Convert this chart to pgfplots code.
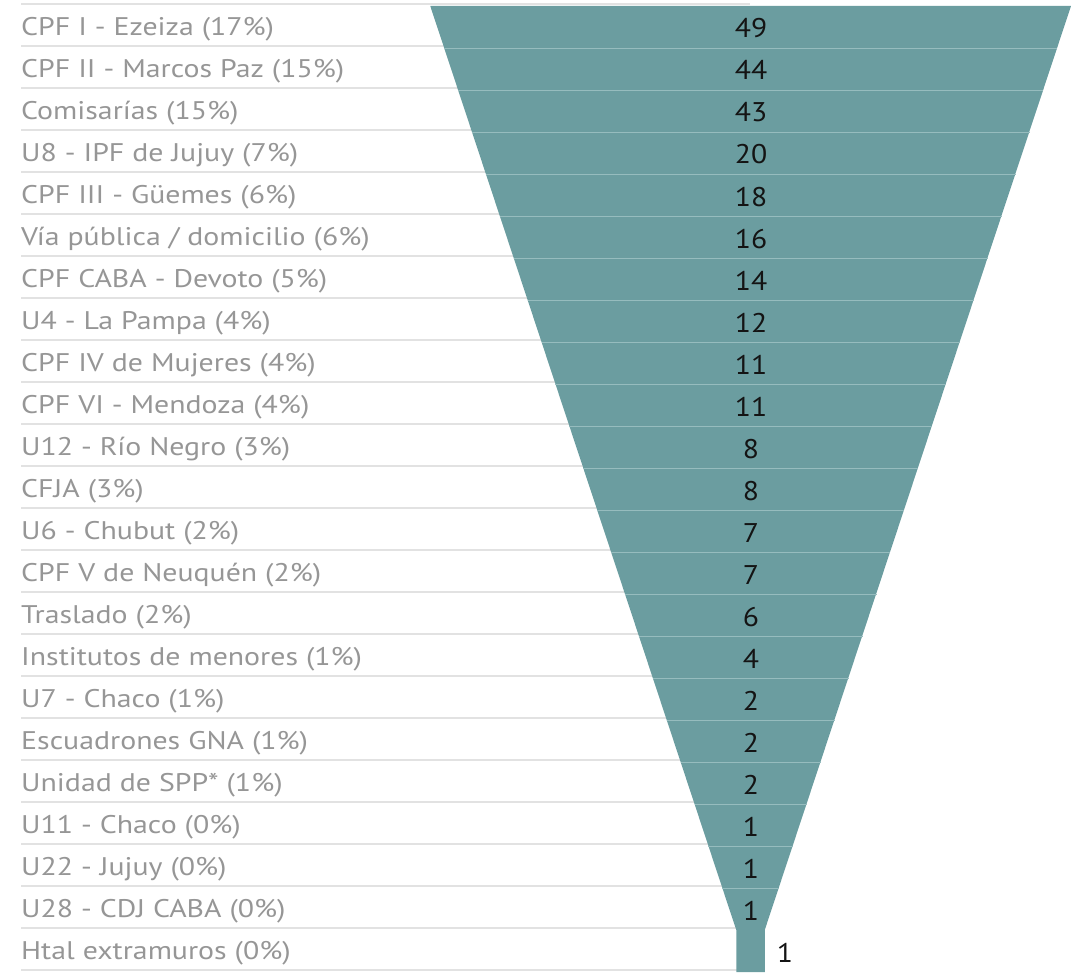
\documentclass[border=0pt]{standalone}
\usepackage{pgfplots}
\usepackage{pgfplotstable}
\pgfplotsset{compat=1.18}
\usepackage{fontspec}
\setmainfont{PT Sans}
\newfontfamily\labfont{PT Sans}[FakeStretch=1.17]
\newfontfamily\valfont{PT Sans}[FakeStretch=1.1]
\definecolor{funnel}{RGB}{107,157,160}
\definecolor{sepc}{RGB}{150,188,190}
\definecolor{lab}{RGB}{150,150,150}
\definecolor{gridc}{RGB}{226,226,226}
\definecolor{val}{RGB}{20,20,20}

\pgfplotstableread[col sep=semicolon]{
yl;yv;xv;value;name
35.5;38;751;49;CPF I - Ezeiza (17\%)
77.5;80;751;44;CPF II - Marcos Paz (15\%)
119.5;122;751;43;Comisarías (15\%)
161.5;164;751;20;U8 - IPF de Jujuy (7\%)
203.5;206;751;18;CPF III - Güemes (6\%)
245.5;248;751;16;Vía pública / domicilio (6\%)
287.5;290;751;14;CPF CABA - Devoto (5\%)
329.5;332;751;12;U4 - La Pampa (4\%)
371.5;374;751;11;CPF IV de Mujeres (4\%)
413.5;416;751;11;CPF VI - Mendoza (4\%)
455.5;458;751;8;U12 - Río Negro (3\%)
497.5;500;751;8;CFJA (3\%)
539.5;542;751;7;U6 - Chubut (2\%)
581.5;584;751;7;CPF V de Neuquén (2\%)
623.5;626;751;6;Traslado (2\%)
665.5;668;751;4;Institutos de menores (1\%)
707.5;710;751;2;U7 - Chaco (1\%)
749.5;752;751;2;Escuadrones GNA (1\%)
791.5;794;751;2;Unidad de SPP* (1\%)
833.5;836;751;1;U11 - Chaco (0\%)
875.5;878;751;1;U22 - Jujuy (0\%)
917.5;920;751;1;U28 - CDJ CABA (0\%)
959.5;962;785;1;Htal extramuros (0\%)
}\funneldata

\begin{document}
\begin{tikzpicture}
\begin{axis}[
  width=1071pt, height=979pt, scale only axis,
  xmin=0, xmax=1071, ymin=0, ymax=979, y dir=reverse,
  axis lines=none, clip=false,
]
% row grid lines (left part, beneath funnel)
\addplot[gridc, line width=1.6pt, unbounded coords=jump] coordinates {
(21,4) (750,4) (nan,nan)
(21,46) (750,46) (nan,nan)
(21,88) (750,88) (nan,nan)
(21,130) (750,130) (nan,nan)
(21,172) (750,172) (nan,nan)
(21,214) (750,214) (nan,nan)
(21,256) (750,256) (nan,nan)
(21,298) (750,298) (nan,nan)
(21,340) (750,340) (nan,nan)
(21,382) (750,382) (nan,nan)
(21,424) (750,424) (nan,nan)
(21,466) (750,466) (nan,nan)
(21,508) (750,508) (nan,nan)
(21,550) (750,550) (nan,nan)
(21,592) (750,592) (nan,nan)
(21,634) (750,634) (nan,nan)
(21,676) (750,676) (nan,nan)
(21,718) (750,718) (nan,nan)
(21,760) (750,760) (nan,nan)
(21,802) (750,802) (nan,nan)
(21,844) (750,844) (nan,nan)
(21,886) (750,886) (nan,nan)
(21,928) (750,928) (nan,nan)
(21,970) (750,970)
};
% funnel body
\addplot[fill=funnel, draw=none] coordinates {
(430.25,6) (1071,6) (764.75,930) (764.75,972) (736.25,972) (736.25,930)
} -- cycle;
% row separators inside funnel
\addplot[sepc, line width=0.8pt, unbounded coords=jump] coordinates {
(444.16,48) (1057.34,48) (nan,nan)
(458.07,90) (1043.43,90) (nan,nan)
(471.98,132) (1029.52,132) (nan,nan)
(485.89,174) (1015.61,174) (nan,nan)
(499.80,216) (1001.70,216) (nan,nan)
(513.70,258) (987.80,258) (nan,nan)
(527.61,300) (973.89,300) (nan,nan)
(541.52,342) (959.98,342) (nan,nan)
(555.43,384) (946.07,384) (nan,nan)
(569.34,426) (932.16,426) (nan,nan)
(583.25,468) (918.25,468) (nan,nan)
(597.16,510) (904.34,510) (nan,nan)
(611.07,552) (890.43,552) (nan,nan)
(624.98,594) (876.52,594) (nan,nan)
(638.89,636) (862.61,636) (nan,nan)
(652.80,678) (848.70,678) (nan,nan)
(666.70,720) (834.80,720) (nan,nan)
(680.61,762) (820.89,762) (nan,nan)
(694.52,804) (806.98,804) (nan,nan)
(708.43,846) (793.07,846) (nan,nan)
(722.34,888) (779.16,888)
};
% category labels
\addplot[draw=none, mark=none, nodes near coords, point meta=explicit symbolic,
  nodes near coords style={anchor=base west, inner sep=0pt, text=lab,
    font=\labfont\fontsize{25.5}{30}\selectfont}]
  table[x expr=21, y=yl, meta=name] {\funneldata};
% values
\addplot[draw=none, mark=none, nodes near coords, point meta=explicit symbolic,
  nodes near coords style={anchor=base, inner sep=0pt, text=val,
    font=\valfont\fontsize{27}{30}\selectfont}]
  table[x=xv, y=yv, meta=value] {\funneldata};
\end{axis}
\path (current axis.south west) rectangle (current axis.north east);
\end{tikzpicture}
\end{document}
